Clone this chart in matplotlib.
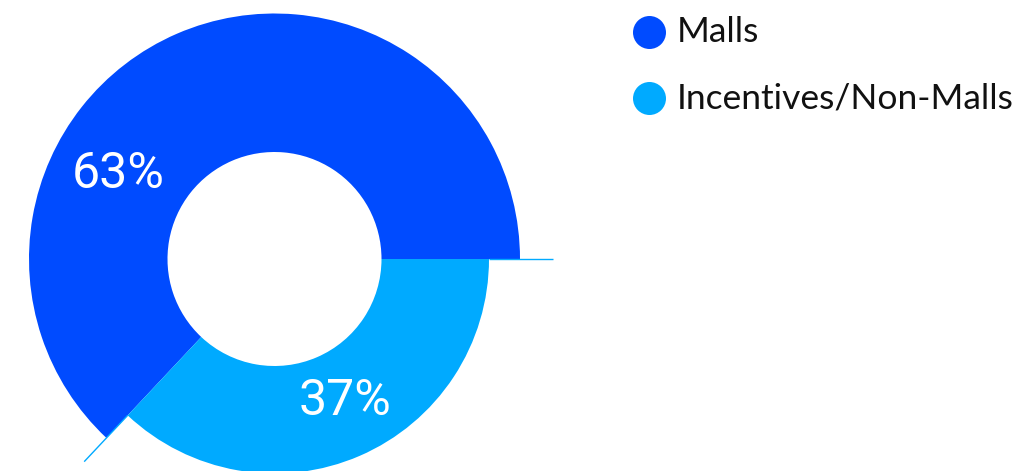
import numpy as np
import matplotlib
matplotlib.use('Agg')
import matplotlib.pyplot as plt

# data
labels = ['Malls', 'Incentives/Non-Malls']
values = [63, 37]
pct_labels = ['63%', '37%']
colors = ['#004BFF', '#00AAFF']

plt.rcParams['font.family'] = ['Roboto', 'DejaVu Sans']

W, H = 1016, 471
fig = plt.figure(figsize=(W / 100, H / 100), dpi=100)
ax = fig.add_axes([0, 0, 1, 1])

# layout (pixel units)
cx, cy = 274.5, H - 259
r_in = 107
r_out = [245.5, 214.5]
label_pos = [(151.3, 178), (296.4, 158.5)]  # angle, radius
tick_end = 278

wedges, _ = ax.pie(values, colors=colors, startangle=0, counterclock=True,
                   center=(cx, cy), radius=r_out[0],
                   wedgeprops=dict(width=r_out[0] - r_in, linewidth=0))
for w, r in zip(wedges, r_out):
    w.set_radius(r)
    w.set_width(r - r_in)

for txt, (ang, rad) in zip(pct_labels, label_pos):
    a = np.deg2rad(ang)
    ax.text(cx + rad * np.cos(a), cy + rad * np.sin(a), txt, color='white',
            fontsize=36, ha='center', va='center')

# thin edge lines of the second slice
for ang in [wedges[1].theta1, wedges[1].theta2]:
    a = np.deg2rad(ang)
    ax.plot([cx + r_out[1] * np.cos(a), cx + tick_end * np.cos(a)],
            [cy + r_out[1] * np.sin(a), cy + tick_end * np.sin(a)],
            color=colors[1], lw=1.0, solid_capstyle='butt')

# legend
for i, (lab, col) in enumerate(zip(labels, colors)):
    y = H - 32 - 66 * i
    ax.scatter([649], [y], s=(33 * 0.72) ** 2, color=col, linewidths=0)
    ax.text(677, y, lab, fontsize=25.5, color='#111111', ha='left', va='center',
            family=['Lato', 'DejaVu Sans'])

ax.set_xlim(0, W)
ax.set_ylim(0, H)
ax.axis('off')

fig.savefig('out.png', dpi=100)
